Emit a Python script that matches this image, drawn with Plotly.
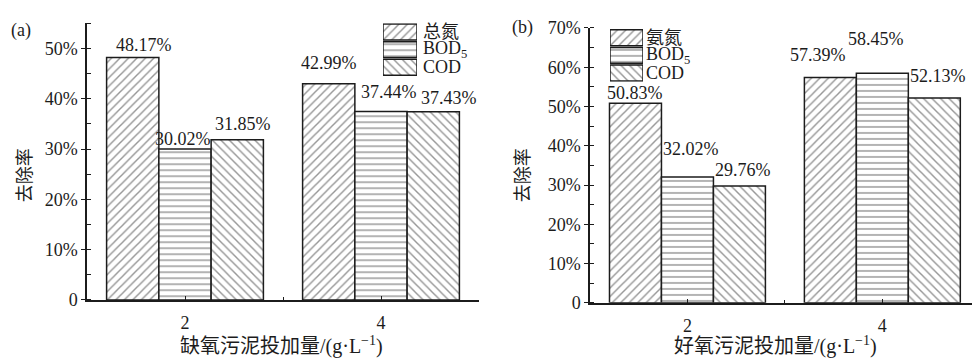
import plotly.graph_objects as go

# ---- data -------------------------------------------------------------
dose = [2, 4]                                  # sludge dosage, g/L
series_a = ["总氮", "BOD<sub>5</sub>", "COD"]
removal_a = [[48.17, 42.99], [30.02, 37.44], [31.85, 37.43]]   # % (anoxic)
series_b = ["氨氮", "BOD<sub>5</sub>", "COD"]
removal_b = [[50.83, 57.39], [32.02, 58.45], [29.76, 52.13]]   # % (aerobic)

ytick_a = [0, 10, 20, 30, 40, 50]
ytick_b = [0, 10, 20, 30, 40, 50, 60, 70]

# ---- styles -----------------------------------------------------------
FONT = "Liberation Serif, Times New Roman, Noto Sans CJK SC, serif"
INK = "#1c1c1c"
patterns = ["/", "-", "\\"]
# label offsets in px (dx, height above bar top)
shift_a = [[(11, 13), (0, 21)], [(-2, 10), (8, 20)], [(6, 16), (16, 14)]]
shift_b = [[(0, 10), (-12, 22)], [(4, 28), (-6, 34)], [(4, 16), (4, 22)]]

W, H = 972, 361
BARGAP = 0.2


def marker(j):
    return dict(color="white", line=dict(color=INK, width=1.5),
                pattern=dict(shape=patterns[j], fgcolor="#2e2e2e",
                             bgcolor="white", size=6, solidity=0.24))


fig = go.Figure()


def add_panel(names, values, shifts, xa, ya):
    nser = len(names)
    step = dose[1] - dose[0]
    bw = step * (1 - BARGAP) / nser
    for j, (name, vals) in enumerate(zip(names, values)):
        fig.add_trace(go.Bar(
            x=dose, y=[v / 100 for v in vals], name=name,
            xaxis=xa, yaxis=ya, marker=marker(j), hoverinfo="skip",
            offsetgroup=str(j), showlegend=False,
        ))
        for i, v in enumerate(vals):
            dx, dy = shifts[j][i]
            fig.add_annotation(
                x=dose[i] + (j - (nser - 1) / 2) * bw, y=v / 100,
                xref=xa, yref=ya, text=f"{v:.2f}%", showarrow=False,
                xanchor="center", yanchor="middle", xshift=dx, yshift=dy,
                font=dict(family=FONT, size=18, color=INK))


def add_key(names, xa, ya, text_x):
    # legend key: one full-width patterned swatch per series, one row each
    for j, name in enumerate(names):
        fig.add_trace(go.Bar(
            x=[1], y=[j], orientation="h", xaxis=xa, yaxis=ya,
            marker=marker(j), width=0.9, hoverinfo="skip", showlegend=False,
        ))
        fig.add_annotation(
            x=text_x, y=j, xref="paper", yref=ya, text=name,
            showarrow=False, xanchor="left", yanchor="middle",
            font=dict(family=FONT, size=18, color=INK))


add_panel(series_a, removal_a, shift_a, "x", "y")
add_panel(series_b, removal_b, shift_b, "x2", "y2")
add_key(series_a, "x3", "y3", 421 / W)
add_key(series_b, "x4", "y4", 644 / W)

axis_common = dict(showline=True, linecolor=INK, linewidth=1.5,
                   showgrid=False, zeroline=False,
                   tickfont=dict(family=FONT, size=18, color=INK),
                   tickcolor=INK)
key_x = dict(range=[0, 1], visible=False, fixedrange=True)
key_y = dict(range=[2.5, -0.5], visible=False, fixedrange=True)

fig.update_layout(
    width=W, height=H, margin=dict(l=0, r=0, t=0, b=0),
    paper_bgcolor="white", plot_bgcolor="rgba(0,0,0,0)",
    barmode="group", bargap=BARGAP, bargroupgap=0,
    font=dict(family=FONT, size=18, color=INK),
    showlegend=False,
    xaxis=dict(domain=[87 / W, 479 / W], range=[1, 5], anchor="y",
               tickvals=dose, ticktext=[str(d) for d in dose],
               ticks="inside", ticklen=4, tickwidth=1.2, ticklabelstandoff=6,
               minor=dict(dtick=1, ticks="inside", ticklen=3, tickcolor=INK),
               **axis_common),
    yaxis=dict(domain=[1 - 307 / H, 1 - 14 / H], range=[0, 0.55], anchor="x",
               tickvals=[t / 100 for t in ytick_a],
               ticktext=["0" if t == 0 else f"{t}%" for t in ytick_a],
               ticks="outside", ticklen=4, tickwidth=1.2,
               minor=dict(dtick=0.05, ticks="inside", ticklen=4, tickcolor=INK),
               **axis_common),
    xaxis2=dict(domain=[590 / W, 1.0], range=[1, 4.92], anchor="y2",
                tickvals=dose, ticktext=[str(d) for d in dose],
                ticks="inside", ticklen=4, tickwidth=1.2, ticklabelstandoff=6,
                minor=dict(dtick=1, ticks="inside", ticklen=3, tickcolor=INK),
                **axis_common),
    yaxis2=dict(domain=[1 - 310 / H, 1 - 19 / H], range=[0, 0.70], anchor="x2",
                tickvals=[t / 100 for t in ytick_b],
                ticktext=["0" if t == 0 else f"{t}%" for t in ytick_b],
                ticks="outside", ticklen=4, tickwidth=1.2,
                minor=dict(dtick=0.05, ticks="inside", ticklen=4, tickcolor=INK),
                **axis_common),
    xaxis3=dict(domain=[383 / W, 417 / W], anchor="y3", **key_x),
    yaxis3=dict(domain=[1 - 70 / H, 1 - 14 / H], anchor="x3", **key_y),
    xaxis4=dict(domain=[610 / W, 643 / W], anchor="y4", **key_x),
    yaxis4=dict(domain=[1 - 76 / H, 1 - 20 / H], anchor="x4", **key_y),
)

# panel tags, axis titles
texts = [
    ("(a)", 21 / W, 1 - 22 / H, 0, 18),
    ("(b)", 522 / W, 1 - 18 / H, 0, 18),
    ("去除率", 25 / W, 1 - 175 / H, -90, 18),
    ("去除率", 523 / W, 1 - 175 / H, -90, 18),
    ("缺氧污泥投加量/(g·L<sup>−1</sup>)", 281 / W, 1 - 355 / H, 0, 20),
    ("好氧污泥投加量/(g·L<sup>−1</sup>)", 775 / W, 1 - 355 / H, 0, 20),
]
for t, x, y, ang, sz in texts:
    fig.add_annotation(x=x, y=y, xref="paper", yref="paper", text=t,
                       showarrow=False, textangle=ang,
                       xanchor="center", yanchor="middle",
                       font=dict(family=FONT, size=sz, color=INK))

fig.write_html("out.html")
